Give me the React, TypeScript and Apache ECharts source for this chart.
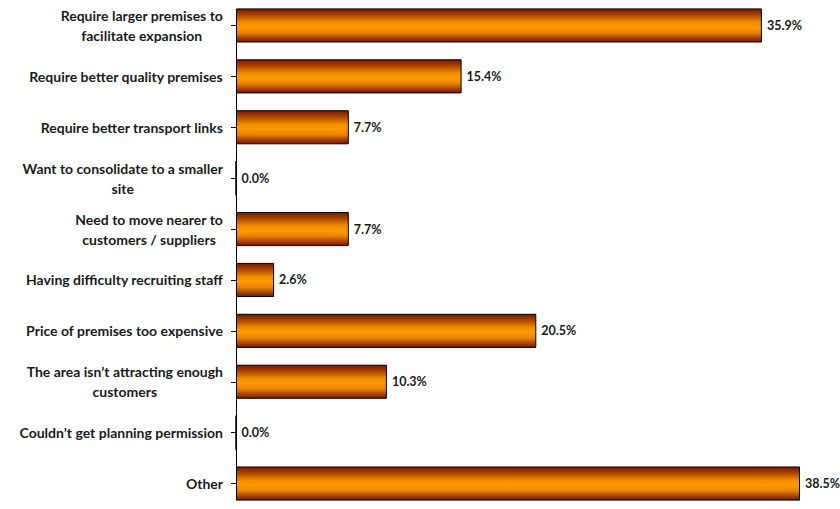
import React, { useEffect, useRef } from "react";
import * as echarts from "echarts";

const categories = [
  "Require larger premises to\nfacilitate expansion",
  "Require better quality premises",
  "Require better transport links",
  "Want to consolidate to a smaller\nsite",
  "Need to move nearer to\ncustomers / suppliers",
  "Having difficulty recruiting staff",
  "Price of premises too expensive",
  "The area isn\u2019t attracting enough\ncustomers",
  "Couldn\u2019t get planning permission",
  "Other",
];
const values = [35.9, 15.4, 7.7, 0.0, 7.7, 2.6, 20.5, 10.3, 0.0, 38.5];

const FONT = "Lato, 'Open Sans', sans-serif";
const FS = 14;

function measure(text: string): number {
  const c = document.createElement("canvas").getContext("2d");
  if (!c) return text.length * 6.3;
  c.font = `bold ${FS}px Lato`;
  return c.measureText(text).width;
}

export default function App() {
  const ref = useRef<HTMLDivElement>(null);
  useEffect(() => {
    if (!ref.current) return;
    const chart = echarts.init(ref.current, null, { renderer: "svg" });
    const rich: Record<string, any> = {};
    categories.forEach((c, i) => {
      const w = Math.max(...c.split("\n").map(measure)) + 2;
      rich["w" + i] = {
        width: w,
        align: "center",
        fontFamily: FONT,
        fontWeight: "bold",
        fontSize: FS,
        color: "#1a1a1a",
        lineHeight: 20,
      };
    });
    const grad = new echarts.graphic.LinearGradient(0, 0, 0, 1, [
      { offset: 0, color: "#781800" },
      { offset: 0.2, color: "#b04a00" },
      { offset: 0.4, color: "#f08c00" },
      { offset: 0.55, color: "#ff9a00" },
      { offset: 0.72, color: "#e88400" },
      { offset: 0.88, color: "#a84000" },
      { offset: 1, color: "#781800" },
    ]);
    chart.setOption({
      animation: false,
      grid: { left: 236, right: 40, top: -1, height: 519, containLabel: false },
      xAxis: {
        type: "value",
        min: 0,
        max: 38.5,
        show: false,
      },
      yAxis: {
        type: "category",
        inverse: true,
        data: categories,
        axisLine: { show: false },
        axisTick: { show: true, alignWithLabel: true, length: 5, lineStyle: { color: "#000" } },
        axisLabel: {
          margin: 12,
          formatter: (v: string, idx: number) =>
            v
              .split("\n")
              .map((l) => `{w${idx}|${l}}`)
              .join("\n"),
          rich,
        },
      },
      series: [
        {
          type: "bar",
          data: values,
          barCategoryGap: "33%",
          itemStyle: { color: grad, borderColor: "#000", borderWidth: 1 },
          label: {
            show: true,
            position: "right",
            distance: 5,
            formatter: (p: any) => p.value.toFixed(1) + "%",
            fontFamily: FONT,
            fontWeight: "bold",
            fontSize: 12.5,
            color: "#1a1a1a",
          },
          markLine: {
            silent: true,
            symbol: "none",
            label: { show: false },
            lineStyle: { color: "#000", width: 1, type: "solid" },
            data: [[{ coord: [0, 0] }, { coord: [0, categories.length - 1] }]],
          },
        },
      ],
    });
    return () => chart.dispose();
  }, []);
  return <div ref={ref} style={{ width: 840, height: 509, position: "absolute", left: 0, top: 0 }} />;
}
